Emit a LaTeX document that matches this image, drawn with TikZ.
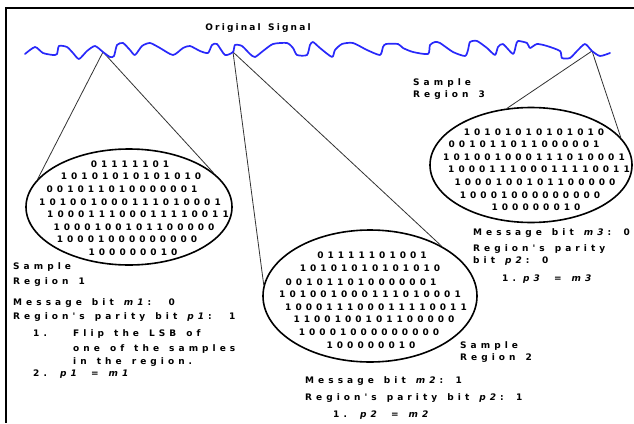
\documentclass[tikz,border=0pt]{standalone}
\usepackage{fontspec}
\setmainfont{DejaVu Sans}
\newfontfamily\spaced[LetterSpace=45,WordSpace=1.4]{DejaVu Sans}
\newfontfamily\spacedT[LetterSpace=24,WordSpace=1.4]{DejaVu Sans}
\usetikzlibrary{shapes.geometric}
\definecolor{sigblue}{RGB}{40,40,250}
\begin{document}
\begin{tikzpicture}[x=1pt,y=-1pt,
  sig/.style={draw=sigblue, line width=1.7pt, line join=round, line cap=round},
  frameline/.style={line width=2pt},
  conn/.style={draw=black!80, line width=0.8pt},
  region/.style={ellipse, draw, line width=1.6pt, inner sep=0pt},
  bits/.style={font=\spaced\bfseries\fontsize{9}{10}\selectfont, inner sep=0pt, anchor=base},
  lbl/.style={font=\spaced\bfseries\fontsize{9}{10}\selectfont, inner sep=0pt, anchor=base west},
  ttl/.style={font=\spacedT\bfseries\fontsize{9}{10}\selectfont, inner sep=0pt, anchor=base},
]
\useasboundingbox (0,0) rectangle (634,423);
\fill[white] (0,0) rectangle (634,423);
\draw[frameline] (634,7.5) -- (6,7.5) -- (6,423);

\node[ttl] (title) at (258,30.5) {Original Signal};

% ellipses
\node[region, minimum width=206pt, minimum height=116pt] (e1) at (129,207) {};
\node[region, minimum width=214pt, minimum height=132pt] (e2) at (370,296) {};
\node[region, minimum width=202pt, minimum height=115pt] (e3) at (531,165) {};

% junctions on signal
\coordinate (j1) at (103,52);
\coordinate (j2) at (233,52);
\coordinate (j3) at (592,51);
\draw[conn] (j1) -- (e1.163.5);
\draw[conn] (j1) -- (e1.22.6);
\draw[conn] (j2) -- (e2.174);
\draw[conn] (j2) -- (e2.35);
\draw[conn] (j3) -- (e3.113);
\draw[conn] (j3) -- (e3.17.8);

% signal
\draw[sig] plot[smooth, tension=0.4] coordinates {
(25,54) (35,47) (43,53) (53,55) (57,54) (59,46) (67,47) (73,53) (79,59) (87,51)
(95,46) (103,52) (110,57) (114,56) (117,45) (123,43) (130,50) (135,55) (142,46)
(150,43) (160,48) (173,55) (183,48) (190,46) (200,51) (208,53) (212,45) (217,44)
(225,55) (233,52) (235,45) (242,46) (250,54) (255,57) (263,51) (273,44) (287,43)
(293,48) (297,55) (307,55) (310,45) (313,42) (320,48) (332,57) (335,50) (342,44)
(353,43) (367,50) (380,55) (383,47) (386,44) (398,44) (403,48) (413,52) (428,54)
(430,45) (435,42) (440,43) (453,52) (465,56) (468,50) (470,42) (477,41) (487,48)
(495,55) (498,47) (503,44) (513,54) (516,45) (518,41) (527,43) (530,48) (537,44)
(547,46) (560,51) (562,58) (570,58) (577,51) (585,44) (592,51) (600,56) (610,53)};

% region 1 bits
\node[bits] (r1a) at (130,167) {01111101};
\node[bits] (r1b) at (131,179) {10101010101010};
\node[bits] (r1c) at (122,192) {001011010000001};
\node[bits] (r1d) at (130,205) {101001000111010001};
\node[bits] (r1e) at (138,217) {100011100011110011};
\node[bits] (r1f) at (134,230) {1000100101100000};
\node[bits] (r1g) at (127,242) {10001000000000};
\node[bits] (r1h) at (133,255) {100000010};

% region 2 bits
\node[bits] (r2a) at (372,258) {01111101001};
\node[bits] (r2b) at (370,271) {10101010101010};
\node[bits] (r2c) at (361,285) {001011010000001};
\node[bits] (r2d) at (370,297) {101001000111010001};
\node[bits] (r2e) at (376,310) {100011100011110011};
\node[bits] (r2f) at (374,322) {1100100101100000};
\node[bits] (r2g) at (369,335) {10001000000000};
\node[bits] (r2h) at (371,348) {100000010};

% region 3 bits
\node[bits] (r3a) at (534,135) {10101010101010};
\node[bits] (r3b) at (524,147.5) {001011011000001};
\node[bits] (r3c) at (534,160) {101001000111010001};
\node[bits] (r3d) at (539,172.5) {100011100011110011};
\node[bits] (r3e) at (535,185) {1000100101100000};
\node[bits] (r3f) at (530,198) {10001000000000};
\node[bits] (r3g) at (536,210.5) {100000010};

% region 1 labels
\node[lbl] (s1a) at (13,269.5) {Sample};
\node[lbl] (s1b) at (13,284.5) {Region 1};
\node[lbl] (m1) at (13,305.5) {Message bit \textit{m1}: \hspace{5pt}0};
\node[lbl] (p1) at (13,319.5) {Region's parity bit \textit{p1}: \hspace{5pt}1};
\node[lbl] (n1) at (33,336.5) {1.};
\node[lbl] (f1) at (73,336.5) {Flip the LSB of};
\node[lbl] (f2) at (73,351.5) {one of the samples};
\node[lbl] (f3) at (73,364.5) {in the region.};
\node[lbl] (n2) at (33,376.5) {2.};
\node[lbl] (q1) at (60,376.5) {\textit{p1} = \textit{m1}};

% region 2 labels
\node[lbl] (s2a) at (460,348.5) {Sample};
\node[lbl] (s2b) at (460,360.5) {Region 2};
\node[lbl] (m2) at (305,383.5) {Message bit \textit{m2}: 1};
\node[lbl] (p2) at (305,400.5) {Region's parity bit \textit{p2}: 1};
\node[lbl] (n3) at (333,417.5) {1.};
\node[lbl] (q2) at (360,417.5) {\textit{p2} = \textit{m2}};

% region 3 labels
\node[lbl] (s3a) at (413,85.5) {Sample};
\node[lbl] (s3b) at (413,97.5) {Region 3};
\node[lbl] (m3) at (473,235.5) {Message bit \textit{m3}: 0};
\node[lbl] (p3a) at (473,251.5) {Region's parity};
\node[lbl] (p3b) at (473,263.5) {bit \textit{p2}: 0};
\node[lbl] (n4) at (502,281.5) {1.};
\node[lbl] (q3) at (523,281.5) {\textit{p3} = \textit{m3}};
\end{tikzpicture}
\end{document}
